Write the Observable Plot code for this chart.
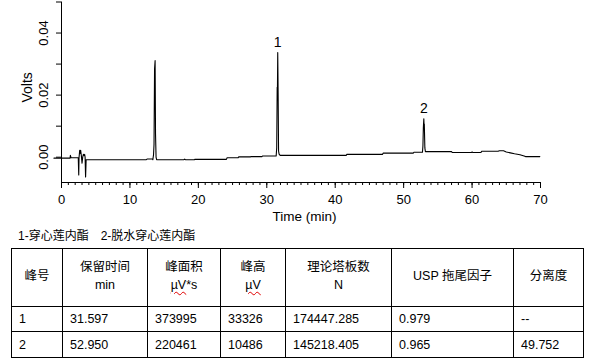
<!DOCTYPE html>
<html><head><meta charset="utf-8">
<script src="https://cdn.jsdelivr.net/npm/d3@7"></script>
<script src="https://cdn.jsdelivr.net/npm/@observablehq/plot@0.6"></script>
<style>
body{margin:0;background:#fff;font-family:"Liberation Sans",Arial,"Noto Sans CJK SC",sans-serif;color:#000;}
#wrap{position:relative;width:603px;height:359px;overflow:hidden;background:#fff;}
#chart{position:absolute;left:0;top:0;}
#legend{position:absolute;left:18px;top:229px;font-size:12px;line-height:15px;white-space:pre;}
table{position:absolute;left:11px;top:248px;border-collapse:collapse;table-layout:fixed;width:572px;font-size:12.5px;}
td{border:1px solid #000;padding:0 0 0 7px;text-align:left;vertical-align:middle;}
tr.head td{height:54px;text-align:center;padding:0 0 3px 0;line-height:18px;}
tr.r1 td{height:24px;}
tr.r2 td{height:25px;}
.sq{text-decoration:underline wavy #e00000;text-decoration-thickness:1px;text-underline-offset:2px;}
</style>
</head><body>
<div id="wrap">
<div id="chart"></div>
<div id="legend"></div>
<table id="tbl"></table>
</div>
<script>
// ---- chromatogram trace (time in min, signal in volts) ----
const traceTime = [
  -1.1, 1.25, 1.3, 1.4, 1.9, 2.0, 2.45, 2.52, 2.56, 2.66, 2.72, 2.8, 2.9, 3.0, 3.1, 3.2, 3.3, 3.38, 3.45, 3.52, 3.6,
  12.4, 12.5, 13.3, 13.35, 13.45, 13.52, 13.6, 13.68, 13.74, 13.82, 13.9,
  17.9, 18.0, 18.1, 19.4, 19.5, 24.1, 24.2, 25.8, 25.9, 27.6, 27.7, 29.3, 29.4,
  31.37, 31.45, 31.52, 31.56, 31.6, 31.66, 31.72, 31.8, 31.96,
  41.6, 41.7, 46.9, 47.0, 51.4, 51.5, 52.75, 52.82, 52.88, 52.95, 52.99, 53.02, 53.1, 53.18,
  57.0, 57.1, 59.9, 60.0, 60.1, 61.3, 61.4, 63.8, 64.0, 64.6, 65.0, 65.6, 66.2, 67.0, 67.6, 67.8, 69.9
];
const traceVolts = [
  -0.0003, -0.0003, 0.0006, -0.0002, -0.0002, -0.0002, -0.0002, -0.0057, -0.0002, 0.0022, 0.0012, 0.0022, 0.0005, -0.0019, 0.0, 0.0009, 0.0006, 0.0009, 0.0, -0.0064, -0.0008,
  -0.0008, -0.0006, -0.0006, -0.0008, 0.0008, 0.0041, 0.0285, 0.0311, 0.0075, 0.0, -0.0008,
  -0.0008, -0.0006, -0.0008, -0.0008, -0.0007, -0.0007, -0.0002, -0.0002, 0.0001, 0.0001, 0.0002, 0.0002, 0.0004,
  0.0004, 0.0030, 0.0225, 0.0225, 0.0337, 0.0202, 0.0020, 0.0010, 0.0006,
  0.0006, 0.0009, 0.0009, 0.0013, 0.0013, 0.0016, 0.0016, 0.0037, 0.0095, 0.0124, 0.0100, 0.0107, 0.0030, 0.0018,
  0.0018, 0.0015, 0.0015, 0.0017, 0.0015, 0.0015, 0.0019, 0.0019, 0.0021, 0.0021, 0.0017, 0.0014, 0.0011, 0.0008, 0.0004, 0.0002, 0.0002
];

// ---- peak annotations ----
const peakNames = ["1", "2"];
const peakTimes = [31.6, 52.95];
const peakVolts = [0.0337, 0.0124];

// ---- axes ----
const xMajorTicks = [0, 10, 20, 30, 40, 50, 60, 70];
const xMinorTicks = [0,1,2,3,4,5,6,7,8,9,10,11,12,13,14,15,16,17,18,19,20,21,22,23,24,25,26,27,28,29,30,31,32,33,34,35,36,37,38,39,40,41,42,43,44,45,46,47,48,49,50,51,52,53,54,55,56,57,58,59,60,61,62,63,64,65,66,67,68,69,70];
const yTicks = [0, 0.01, 0.02, 0.03, 0.04, 0.05];
const yTickLabels = ["0.00", "0.02", "0.04"];
const yTickLabelValues = [0, 0.02, 0.04];
const xLabel = "Time (min)";
const yLabel = "Volts";

// ---- legend + table ----
const legendText = "1-穿心莲内酯\u30002-脱水穿心莲内酯";
const headerLine1 = ["峰号", "保留时间", "峰面积", "峰高", "理论塔板数", "USP 拖尾因子", "分离度"];
const headerLine2 = ["", "min", "µV*s", "µV", "N", "", ""];
const colPeak = ["1", "2"];
const colRT = ["31.597", "52.950"];
const colArea = ["373995", "220461"];
const colHeight = ["33326", "10486"];
const colPlates = ["174447.285", "145218.405"];
const colTailing = ["0.979", "0.965"];
const colResolution = ["--", "49.752"];

const trace = traceTime.map((t, i) => ({t, v: traceVolts[i]}));
const peaks = peakNames.map((n, i) => ({n, t: peakTimes[i], v: peakVolts[i]}));
const yMin = -0.00815;
const FONT = "Liberation Sans, Arial, sans-serif";

const plot = Plot.plot({
  width: 603, height: 225,
  marginLeft: 61, marginRight: 63, marginTop: 1.5, marginBottom: 43,
  style: {fontFamily: FONT, fontSize: "13px", color: "#000", background: "transparent", overflow: "visible"},
  x: {domain: [0, 70], axis: null},
  y: {domain: [yMin, 0.05], axis: null},
  marks: [
    Plot.ruleY([yMin], {stroke: "#000", strokeWidth: 1}),
    Plot.ruleX([0], {stroke: "#000", strokeWidth: 1}),
    Plot.axisX(xMinorTicks, {anchor: "bottom", tickSize: 3, tickFormat: () => "", label: null, strokeOpacity: 1}),
    Plot.axisX(xMajorTicks, {anchor: "bottom", tickSize: 6, tickPadding: 6, tickFormat: d => String(d), label: null, strokeOpacity: 1}),
    Plot.axisY(yTicks, {anchor: "left", tickSize: 5, tickFormat: () => "", label: null, strokeOpacity: 1}),
    Plot.text(yTickLabelValues, {x: 0, y: d => d, text: (d, i) => yTickLabels[i], rotate: -90, dx: -14, lineAnchor: "bottom", textAnchor: "middle", fontSize: 13}),
    Plot.text([yLabel], {x: 0, y: 0.0225, rotate: -90, dx: -30, lineAnchor: "bottom", textAnchor: "middle", fontSize: 14}),
    Plot.text([xLabel], {x: 35.5, y: yMin, dy: 38, lineAnchor: "bottom", textAnchor: "middle", fontSize: 13.5}),
    Plot.line(trace, {x: "t", y: "v", stroke: "#000", strokeWidth: 1.1}),
    Plot.text(peaks, {x: "t", y: "v", text: "n", dy: -6, lineAnchor: "bottom", fontSize: 14})
  ]
});
document.getElementById("chart").appendChild(plot);

document.getElementById("legend").textContent = legendText;

const tbl = document.getElementById("tbl");
const colWidths = [51, 85, 73, 65, 106, 122, 70];
const cg = document.createElement("colgroup");
colWidths.forEach(w => { const c = document.createElement("col"); c.style.width = w + "px"; cg.appendChild(c); });
tbl.appendChild(cg);
const hr = document.createElement("tr"); hr.className = "head";
headerLine1.forEach((h, i) => {
  const td = document.createElement("td");
  td.appendChild(document.createTextNode(h));
  const l2 = headerLine2[i];
  if (l2) {
    td.appendChild(document.createElement("br"));
    if (l2.startsWith("µV")) {
      const s = document.createElement("span"); s.className = "sq"; s.textContent = "µV";
      td.appendChild(s);
      if (l2.length > 2) td.appendChild(document.createTextNode(l2.slice(2)));
    } else td.appendChild(document.createTextNode(l2));
  }
  hr.appendChild(td);
});
tbl.appendChild(hr);
for (let r = 0; r < 2; r++) {
  const tr = document.createElement("tr"); tr.className = "r" + (r + 1);
  [colPeak, colRT, colArea, colHeight, colPlates, colTailing, colResolution].forEach(col => {
    const td = document.createElement("td"); td.textContent = col[r]; tr.appendChild(td);
  });
  tbl.appendChild(tr);
}
</script>
</body></html>
